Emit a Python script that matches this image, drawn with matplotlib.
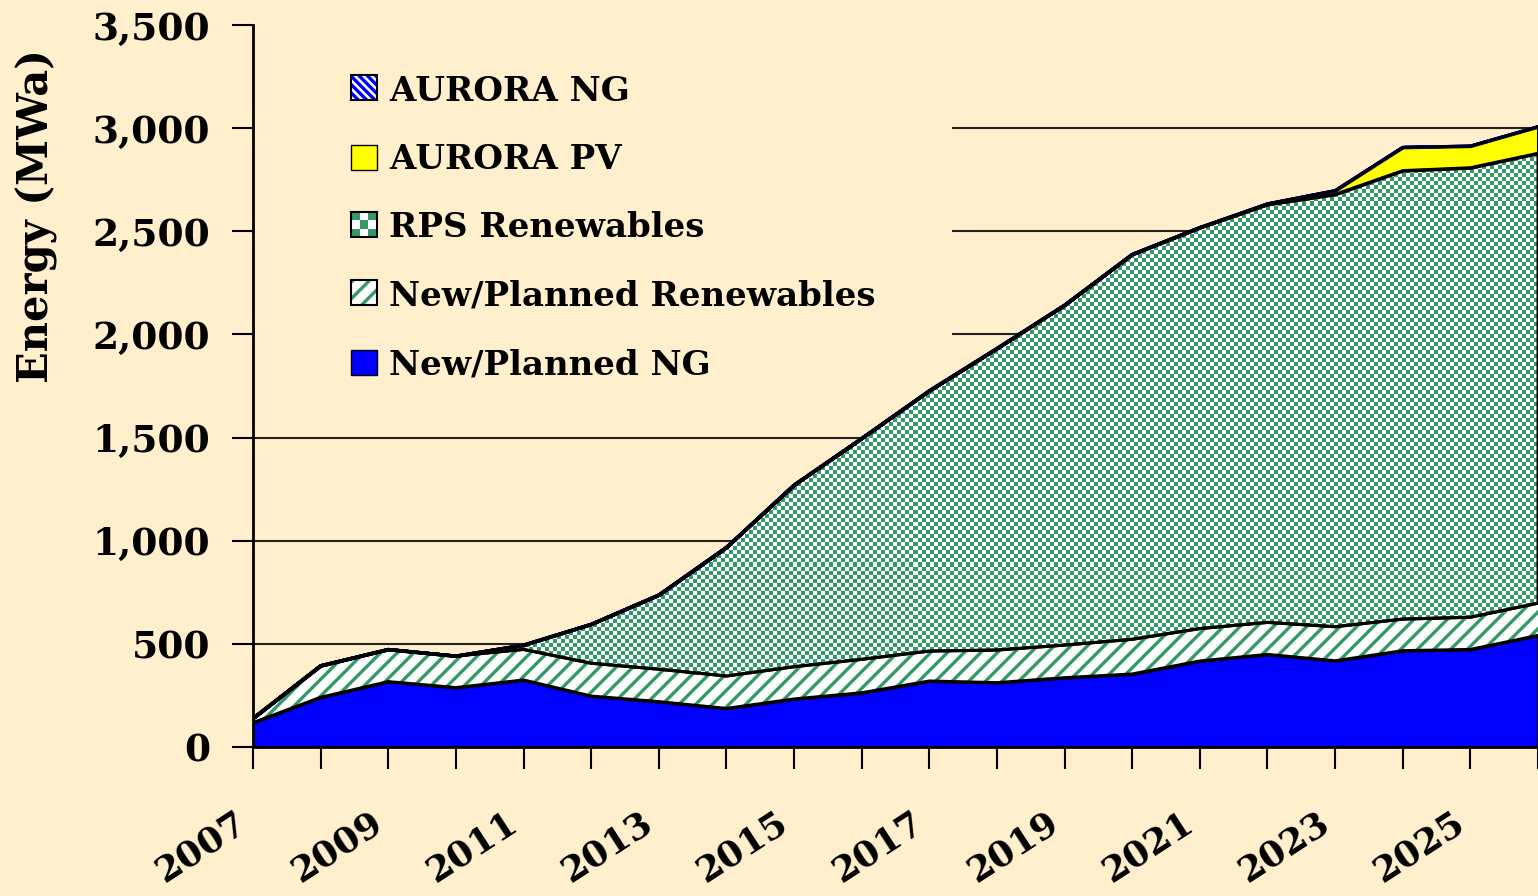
import matplotlib
matplotlib.use("Agg")
import matplotlib.pyplot as plt
import numpy as np
from matplotlib.colors import ListedColormap
from matplotlib.patches import Rectangle, Patch
from matplotlib.legend_handler import HandlerBase
from matplotlib.transforms import ScaledTranslation

# data (MWa)
years = list(range(2007, 2027))
new_planned_ng = [118, 241, 317, 288, 325, 247, 220, 187, 233, 263,
                  320, 312, 336, 354, 417, 449, 418, 467, 473, 541]
new_planned_ren = [21, 153, 156, 153, 148, 159, 157, 157, 156, 162,
                   145, 158, 158, 168, 157, 155, 165, 153, 156, 156]
rps_ren = [0, 0, 0, 0, 21, 189, 360, 624, 881, 1071,
           1262, 1462, 1648, 1866, 1944, 2026, 2096, 2174, 2179, 2181]
aurora_pv = [0, 0, 0, 0, 0, 0, 0, 0, 0, 0,
             0, 0, 0, 0, 0, 3, 18, 113, 105, 129]
aurora_ng = [0] * 20
labels = ["New/Planned NG", "New/Planned Renewables", "RPS Renewables",
          "AURORA PV", "AURORA NG"]
yticks = [0, 500, 1000, 1500, 2000, 2500, 3000, 3500]

bg = "#FFEFCC"
green = "#339966"
plt.rcParams["font.family"] = ["DejaVu Serif"]
plt.rcParams["font.weight"] = "bold"
plt.rcParams["hatch.linewidth"] = 2.4


class CheckerHandler(HandlerBase):
    # little checkerboard square for the RPS legend entry
    def create_artists(self, legend, orig, xd, yd, w, h, fontsize, trans):
        arts = []
        n = 3
        for i in range(n):
            for j in range(n):
                c = green if (i + j) % 2 == 0 else "white"
                arts.append(Rectangle((xd + i*w/n, yd + j*h/n), w/n, h/n,
                                      facecolor=c, edgecolor="none", transform=trans))
        arts.append(Rectangle((xd, yd), w, h, facecolor="none",
                              edgecolor="black", lw=1.5, transform=trans))
        return arts


class HatchHandler(HandlerBase):
    # hatched square with coloured hatch and black border
    def __init__(self, hatch, color):
        super().__init__()
        self.hatch = hatch
        self.color = color

    def create_artists(self, legend, orig, xd, yd, w, h, fontsize, trans):
        a = Rectangle((xd, yd), w, h, facecolor="white", edgecolor=self.color,
                      hatch=self.hatch, lw=0, transform=trans)
        b = Rectangle((xd, yd), w, h, facecolor="none", edgecolor="black",
                      lw=1.5, transform=trans)
        return [a, b]


fig = plt.figure(figsize=(15.38, 8.96), dpi=100, facecolor=bg)
ax = fig.add_axes([253/1538, 1 - 747/896, 1285/1538, 722/896])
ax.set_facecolor(bg)

# grid lines behind everything
for t in yticks[1:-1]:
    ax.axhline(t, color="#222222", lw=1.5, zorder=0.5)

# blank box behind the legend hides the grid lines there
ax.add_patch(Rectangle((0, 0.49), 0.544, 0.49, transform=ax.transAxes,
                       facecolor=bg, edgecolor="none", zorder=1))

polys = ax.stackplot(years, new_planned_ng, new_planned_ren, rps_ren,
                     aurora_pv, aurora_ng,
                     colors=["#0000FF", "white", "none", "#FFFF00", "white"],
                     edgecolor="black", linewidth=2.2, zorder=2)
polys[1].set_hatch("//")
polys[1].set_edgecolor(green)
polys[1].set_linewidth(0)
polys[4].set_hatch("\\\\\\")
polys[4].set_edgecolor("blue")

# outline lines on top of the stripe layer
cum = np.cumsum([new_planned_ng, new_planned_ren, rps_ren, aurora_pv], axis=0)
for c in cum:
    ax.plot(years, c, color="black", lw=2.2, zorder=3)

# checkerboard fill for RPS, clipped to its polygon
ny, nx = 722 // 4, 1285 // 4
iy, ix = np.indices((ny, nx))
checker = (iy + ix) % 2
img = ax.imshow(checker, cmap=ListedColormap(["white", green]),
                extent=[2007, 2026, 0, 3500], aspect="auto",
                interpolation="none", zorder=1.9, origin="lower")
img.set_clip_path(polys[2].get_paths()[0], ax.transData)

ax.set_xlim(2007, 2026)
ax.set_ylim(0, 3500)
ax.set_yticks(yticks)
ax.set_yticklabels([f"{v:,}" for v in yticks], fontsize=27, fontweight="bold")
ax.set_xticks(years)
ax.set_xticklabels([str(y) if y % 2 == 1 else "" for y in years],
                   fontsize=26, fontweight="bold", rotation=33, ha="right")
offset = ScaledTranslation(-12/100, 0, fig.dpi_scale_trans)
for lab in ax.get_xticklabels():
    lab.set_transform(lab.get_transform() + offset)
ax.tick_params(axis="y", direction="out", length=15, width=1.5, pad=16)
ax.tick_params(axis="x", direction="out", length=16, width=1.5, pad=26)
for s in ["top", "right"]:
    ax.spines[s].set_visible(False)
for s in ["left", "bottom"]:
    ax.spines[s].set_linewidth(2)
    ax.spines[s].set_zorder(4)

ax.set_ylabel("Energy (MWa)", fontsize=30, fontweight="bold")
ax.yaxis.set_label_coords(-0.152, 0.735)

# legend in reverse stacking order
handles = [Patch(label=labels[4]), Patch(facecolor="#FFFF00", edgecolor="black", label=labels[3]),
           Patch(label=labels[2]), Patch(label=labels[1]),
           Patch(facecolor="#0000FF", edgecolor="black", label=labels[0])]
hmap = {handles[0]: HatchHandler("\\\\\\\\", "blue"),
        handles[2]: CheckerHandler(),
        handles[3]: HatchHandler("//", green)}
leg = ax.legend(handles=handles, handler_map=hmap, loc="upper left",
                bbox_to_anchor=(0.066, 0.95), frameon=False, fontsize=24.5,
                handlelength=0.75, handleheight=0.75, handletextpad=0.35,
                labelspacing=1.04, borderaxespad=0)
for t in leg.get_texts():
    t.set_fontweight("bold")

fig.savefig("out.png", dpi=100, facecolor=bg)
